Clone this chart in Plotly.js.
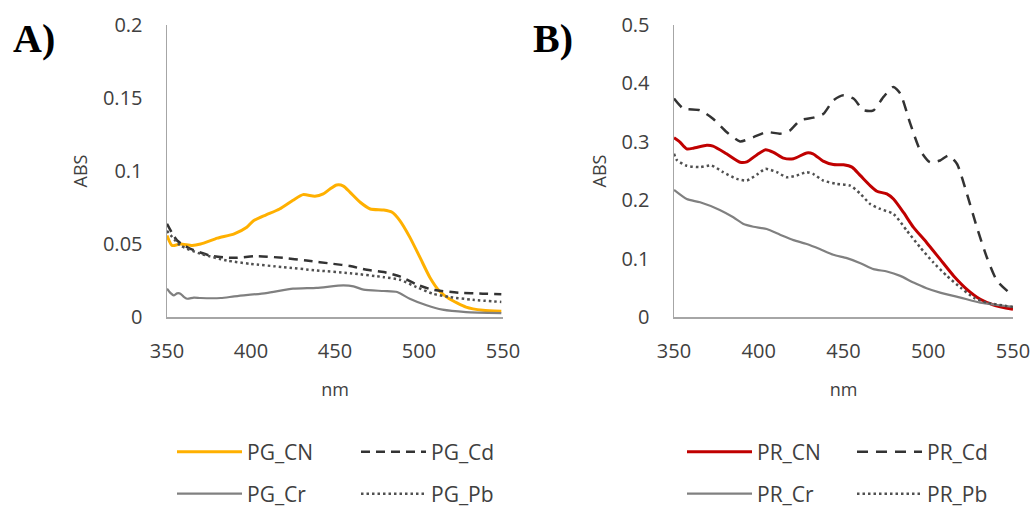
<!DOCTYPE html>
<html>
<head>
<meta charset="utf-8">
<script src="https://cdn.plot.ly/plotly-3.0.1.min.js"></script>
<style>html,body{margin:0;padding:0;background:#fff;}#chart{width:1035px;height:507px;}</style>
</head>
<body>
<div id="chart"></div>
<script>
// ---- Panel A data ----
const pgCN_x = [350,353,358,365,370,380,390,397.5,401.5,409,417,425,431,438,443,447,451,455,459,465,471,479,484,488.6,494.5,500.5,506.4,512,518,528,538,549];
const pgCN_y = [0.0558,0.049,0.050,0.049,0.050,0.054,0.057,0.0615,0.066,0.070,0.074,0.080,0.0838,0.0827,0.0843,0.0877,0.0904,0.0897,0.0854,0.0786,0.074,0.0733,0.0717,0.066,0.0547,0.041,0.0273,0.018,0.0125,0.0068,0.0046,0.0039];
const pgCd_x = [350,356,364,376,390,403.5,419,433,449,459,469,479,488.6,498.5,508,524,538,549];
const pgCd_y = [0.0638,0.0524,0.0467,0.042,0.0405,0.0417,0.0405,0.0387,0.0364,0.0349,0.0323,0.0308,0.0278,0.0223,0.0187,0.0166,0.016,0.0155];
const pgCr_x = [350,352,354,356,358,360,362,366,370,382,390,409,425,439,455,461,467,479,487,494.5,504.5,514,528,549];
const pgCr_y = [0.0194,0.0165,0.0148,0.0162,0.016,0.0138,0.0125,0.0133,0.013,0.013,0.0141,0.0164,0.0194,0.020,0.0216,0.021,0.0187,0.0178,0.0171,0.0125,0.008,0.005,0.0034,0.0027];
const pgPb_x = [350,358,370,385.6,399.5,419,439,459,479,488.6,498.5,508,518,532,549];
const pgPb_y = [0.059,0.049,0.0433,0.0387,0.0364,0.0342,0.0319,0.030,0.0273,0.0255,0.0205,0.016,0.0137,0.0118,0.0103];

// ---- Panel B data ----
const prCN_x = [350,353.5,357.5,361.4,369.3,373,381,389,393,399,404,408.7,414.6,420.5,428.3,432,438,444,450,455,460,465.7,469.7,475.6,479.5,485.4,491.3,499,507,515,522.8,530.7,538.6,550];
const prCN_y = [0.307,0.2995,0.288,0.289,0.294,0.2927,0.2795,0.265,0.2657,0.278,0.2864,0.282,0.272,0.271,0.281,0.2795,0.267,0.261,0.2606,0.2566,0.242,0.225,0.2153,0.2108,0.202,0.179,0.1535,0.1277,0.099,0.0704,0.0475,0.0304,0.0206,0.0132];
const prCd_x = [350,355.5,365.4,373,381,389,396.9,404.7,412.6,418.5,424.4,432.3,438.2,444,450,455.9,461.8,467.7,473.6,479.5,483.5,489.4,495.3,501,507,512,517,522.8,528.7,534.6,540.6,550];
const prCd_y = [0.374,0.357,0.354,0.3396,0.3167,0.3007,0.308,0.3167,0.3139,0.3196,0.3368,0.3414,0.348,0.371,0.3797,0.374,0.354,0.354,0.3769,0.394,0.3826,0.331,0.285,0.265,0.268,0.2766,0.262,0.211,0.1535,0.102,0.0619,0.036];
const prCr_x = [350,357.5,365.4,377,385,391,396.9,404.7,412.6,420.5,428.3,436,444,452,460,467.7,475.6,483.5,491.3,499,507,519,530.7,540.6,550];
const prCr_y = [0.2176,0.202,0.1964,0.1833,0.1707,0.1592,0.1546,0.1506,0.1409,0.1317,0.1249,0.1163,0.1065,0.1008,0.0922,0.0819,0.0779,0.0704,0.059,0.0493,0.0418,0.0332,0.0246,0.0206,0.0172];
const prPb_x = [350,351.6,357.5,365.4,372,379,387,393,399,404,410.6,416.5,422.4,428.3,432,438,446,454,460,465.7,471.7,479.5,487.4,495.3,503,511,519,526.8,534.6,550];
const prPb_y = [0.2795,0.269,0.259,0.2566,0.2595,0.248,0.2365,0.2337,0.244,0.2537,0.248,0.2394,0.2423,0.248,0.245,0.2337,0.228,0.225,0.2108,0.1936,0.185,0.1764,0.1478,0.119,0.0934,0.0704,0.0504,0.0332,0.0246,0.0172];

const xTicks = [350,400,450,500,550];
const yTicksA = [0,0.05,0.1,0.15,0.2];
const yTicksB = [0,0.1,0.2,0.3,0.4,0.5];

const TXT = '#404040';
const AX = '#a6a6a6';
const FONT = 'Open Sans, sans-serif';

function tr(x, y, name, xa, ya, color, width, dash, legend) {
  return {x: x, y: y, name: name, type: 'scatter', mode: 'lines', xaxis: xa, yaxis: ya,
    line: {color: color, width: width, dash: dash, shape: 'spline', smoothing: 0.6},
    legend: legend, hoverinfo: 'skip'};
}

const data = [
  tr(pgCN_x, pgCN_y, 'PG_CN', 'x', 'y', '#FFB000', 3, 'solid', 'legend'),
  tr(pgCr_x, pgCr_y, 'PG_Cr', 'x', 'y', '#808080', 2.2, 'solid', 'legend2'),
  tr(pgCd_x, pgCd_y, 'PG_Cd', 'x', 'y', '#333333', 2.5, '9px,6px', 'legend3'),
  tr(pgPb_x, pgPb_y, 'PG_Pb', 'x', 'y', '#505050', 2.5, '2.5px,3px', 'legend4'),
  tr(prCN_x, prCN_y, 'PR_CN', 'x2', 'y2', '#C00000', 3, 'solid', 'legend5'),
  tr(prCr_x, prCr_y, 'PR_Cr', 'x2', 'y2', '#808080', 2.2, 'solid', 'legend6'),
  tr(prCd_x, prCd_y, 'PR_Cd', 'x2', 'y2', '#333333', 2.5, '11px,8px', 'legend7'),
  tr(prPb_x, prPb_y, 'PR_Pb', 'x2', 'y2', '#505050', 2.5, '2.5px,3px', 'legend8')
];

function xax(domain, anchor) {
  return {domain: domain, anchor: anchor, range: [350, 550], tickvals: xTicks, showgrid: false, zeroline: false,
    showline: true, linecolor: AX, linewidth: 1.5, ticks: '', ticklabelstandoff: 15,
    tickfont: {family: FONT, size: 20, color: TXT},
    title: {text: 'nm', font: {family: FONT, size: 18, color: TXT}, standoff: 21}};
}
function yax(domain, anchor, range, ticks) {
  return {domain: domain, anchor: anchor, range: range, tickvals: ticks, showgrid: false, zeroline: false,
    showline: true, linecolor: AX, linewidth: 1.5, ticks: '', ticklabelstandoff: 19,
    tickfont: {family: FONT, size: 20, color: TXT},
    title: {text: 'ABS', font: {family: FONT, size: 18, color: TXT}, standoff: 10}};
}
function leg(xpx, ypx) {
  return {x: xpx/1035, y: 1 - ypx/507, xanchor: 'left', yanchor: 'middle', orientation: 'v', bgcolor: 'rgba(0,0,0,0)',
    borderwidth: 0, itemwidth: 65, font: {family: FONT, size: 21, color: TXT}};
}

const row1 = 452, row2 = 494;
const yd = [1 - 317/507, 1 - 25/507];
const layout = {
  width: 1035, height: 507,
  margin: {l: 0, r: 0, t: 0, b: 0, autoexpand: false},
  paper_bgcolor: '#fff', plot_bgcolor: '#fff',
  xaxis: xax([167/1035, 503/1035], 'y'),
  yaxis: yax(yd, 'x', [0, 0.2], yTicksA),
  xaxis2: xax([674/1035, 1013/1035], 'y2'),
  yaxis2: yax(yd, 'x2', [0, 0.5], yTicksB),
  legend: leg(172, row1),
  legend2: leg(172, row2),
  legend3: leg(356, row1),
  legend4: leg(356, row2),
  legend5: leg(682, row1),
  legend6: leg(682, row2),
  legend7: leg(852, row1),
  legend8: leg(852, row2),
  annotations: [
    {text: '<b>A)</b>', xref: 'paper', yref: 'paper', x: 11/1035, y: 1 - 14/507, xanchor: 'left', yanchor: 'top',
     showarrow: false, font: {family: 'Liberation Serif, Times New Roman, serif', size: 40, color: '#000'}},
    {text: '<b>B)</b>', xref: 'paper', yref: 'paper', x: 531/1035, y: 1 - 14/507, xanchor: 'left', yanchor: 'top',
     showarrow: false, font: {family: 'Liberation Serif, Times New Roman, serif', size: 40, color: '#000'}}
  ],
  showlegend: true
};

Plotly.newPlot('chart', data, layout, {staticPlot: true, displayModeBar: false});
</script>
</body>
</html>
